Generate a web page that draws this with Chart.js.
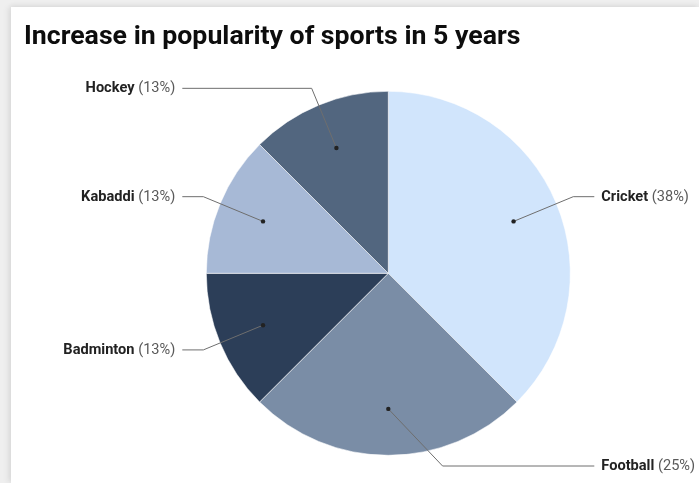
<!DOCTYPE html>
<html>
<head>
<meta charset="utf-8">
<script src="https://cdn.jsdelivr.net/npm/chart.js@4/dist/chart.umd.min.js"></script>
<style>
  html, body { margin: 0; padding: 0; width: 699px; height: 483px; overflow: hidden; background: #efefef; }
  .card { position: absolute; left: 11px; top: 7px; right: 0; bottom: 0; background: #ffffff;
          box-shadow: -3px 0 6px rgba(0,0,0,0.07), 0 -2px 5px rgba(0,0,0,0.05); }
  canvas { position: absolute; left: 0; top: 0; }
</style>
</head>
<body>
<div class="card"></div>
<canvas id="c" width="699" height="483"></canvas>
<script>
const chartTitle = 'Increase in popularity of sports in 5 years';
const categories = ['Cricket', 'Football', 'Badminton', 'Kabaddi', 'Hockey'];
const shares = [37.5, 25, 12.5, 12.5, 12.5];
const sliceColors = ['#d1e5fc', '#7a8da6', '#2c3e58', '#a7b9d6', '#52667f'];

const leaderPlugin = {
  id: 'leaders',
  afterDraw(chart) {
    const ctx = chart.ctx;
    // title
    ctx.save();
    ctx.font = 'bold 26.7px Roboto';
    ctx.fillStyle = '#0d0d0d';
    ctx.textBaseline = 'alphabetic';
    ctx.textAlign = 'left';
    ctx.fillText(chartTitle, 24, 43.5);
    ctx.restore();

    const meta = chart.getDatasetMeta(0);
    const data = chart.data.datasets[0].data;
    const total = data.reduce((a, b) => a + b, 0);
    meta.data.forEach((arc, i) => {
      const p = arc.getProps(['x', 'y', 'startAngle', 'endAngle', 'outerRadius'], true);
      const cx = p.x, cy = p.y, R = p.outerRadius;
      const mid = (p.startAngle + p.endAngle) / 2;
      const dx = cx + Math.cos(mid) * R * 0.745;
      const dy = cy + Math.sin(mid) * R * 0.745;
      const er = R * 1.1;
      let ex = cx + Math.cos(mid) * er;
      let ey = cy + Math.sin(mid) * er;
      const maxY = chart.height - 17;
      let right = ex >= cx - 0.5;
      if (ey > maxY) {
        ey = maxY;
        const off = Math.sqrt(Math.max(er * er - (ey - cy) * (ey - cy), 0));
        ex = right ? cx + off : cx - off;
      }
      const lx = right ? cx + R + 24 : cx - R - 24;
      ctx.save();
      ctx.strokeStyle = '#6e6e6e';
      ctx.lineWidth = 1;
      ctx.beginPath();
      ctx.moveTo(dx, dy);
      ctx.lineTo(ex, ey);
      ctx.lineTo(lx, ey);
      ctx.stroke();
      ctx.fillStyle = '#222222';
      ctx.beginPath();
      ctx.arc(dx, dy, 2.2, 0, Math.PI * 2);
      ctx.fill();

      const name = chart.data.labels[i];
      const pct = ' (' + Math.round(data[i] / total * 100) + '%)';
      ctx.textBaseline = 'middle';
      ctx.font = 'bold 14.6px Roboto';
      const w1 = ctx.measureText(name).width;
      ctx.font = '14.6px Roboto';
      const w2 = ctx.measureText(pct).width;
      const tx = right ? lx + 7 : lx - 7 - w1 - w2;
      ctx.font = 'bold 14.6px Roboto';
      ctx.fillStyle = '#222222';
      ctx.fillText(name, tx, ey + 0.5);
      ctx.font = '14.6px Roboto';
      ctx.fillStyle = '#5a5a5a';
      ctx.fillText(pct, tx + w1, ey + 0.5);
      ctx.restore();
    });
  }
};

new Chart(document.getElementById('c'), {
  type: 'pie',
  data: {
    labels: categories,
    datasets: [{
      data: shares,
      backgroundColor: sliceColors,
      borderColor: 'rgba(255,255,255,0.55)',
      borderWidth: 1,
      radius: 182
    }]
  },
  options: {
    responsive: false,
    animation: false,
    layout: { padding: { left: 206.3, right: 128.7, top: 91.3, bottom: 27.7 } },
    plugins: {
      legend: { display: false },
      title: { display: false },
      tooltip: { enabled: false }
    }
  },
  plugins: [leaderPlugin]
});
</script>
</body>
</html>
